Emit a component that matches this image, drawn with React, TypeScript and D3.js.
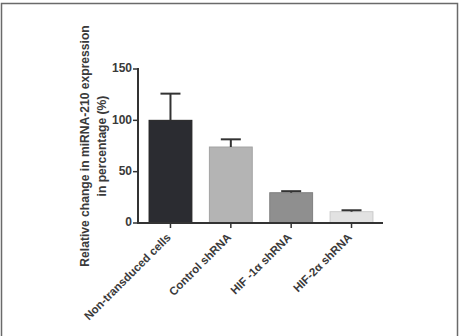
import React from "react";
import * as d3 from "d3";

const categories = ["Non-transduced cells", "Control shRNA", "HIF -1\u03b1 shRNA", "HIF-2\u03b1 shRNA"];
const values = [100, 74, 29.5, 11];
const errors = [26, 7.5, 1.5, 1.4];
const colors = ["#2b2c31", "#b4b4b4", "#8f8f8f", "#e2e2e2"];
const yTicks = [0, 50, 100, 150];

export default function App() {
  const W = 461, H = 336;
  const x0 = 138, x1 = 383;
  const y = d3.scaleLinear().domain([0, 150]).range([223, 69]);
  const x = d3.scaleBand().domain(categories).range([140, 382]).paddingInner(0.29).paddingOuter(0.15);
  const font = "'Liberation Sans', Arial, sans-serif";
  const txt = "#3a3a3a";
  return (
    <svg width={W} height={H} style={{ position: "absolute", left: 0, top: 0, background: "#fff" }}>
      <rect x={1.5} y={3.5} width={456} height={340} fill="#fff" stroke="#6a6a6a" strokeWidth={1.5} />
      {categories.map((c, i) => {
        const bx = x(c)!;
        const bw = x.bandwidth();
        const cx = bx + bw / 2;
        const top = y(values[i] + errors[i]);
        return (
          <g key={c}>
            <rect x={bx} y={y(values[i])} width={bw} height={y(0) - y(values[i])} fill={colors[i]} stroke={i === 0 ? "#222" : d3.color(colors[i])!.darker(0.3).toString()} strokeWidth={1} />
            <line x1={cx} x2={cx} y1={y(values[i])} y2={top} stroke="#333" strokeWidth={2} />
            <line x1={cx - 10} x2={cx + 10} y1={top} y2={top} stroke="#333" strokeWidth={2} />
            <line x1={cx} x2={cx} y1={y(0)} y2={y(0) + 5} stroke="#333" strokeWidth={1.5} />
            <text
              transform={`translate(${cx - 1},${y(0) + 13}) rotate(-45)`}
              textAnchor="end"
              dominantBaseline="middle"
              fontFamily={font}
              fontWeight="bold"
              fontSize={11.5}
              fill={txt}
            >
              {c}
            </text>
          </g>
        );
      })}
      <line x1={x0} x2={x0} y1={y(150) - 1} y2={y(0) + 1} stroke="#333" strokeWidth={2} />
      <line x1={x0 - 1} x2={x1} y1={y(0)} y2={y(0)} stroke="#333" strokeWidth={2} />
      {yTicks.map((t) => (
        <g key={t}>
          <line x1={x0 - 5} x2={x0} y1={y(t)} y2={y(t)} stroke="#333" strokeWidth={1.5} />
          <text x={x0 - 6} y={y(t)} textAnchor="end" dominantBaseline="middle" fontFamily={font} fontWeight="bold" fontSize={12} fill={txt}>
            {t}
          </text>
        </g>
      ))}
      <text transform={`translate(89,146) rotate(-90)`} textAnchor="middle" fontFamily={font} fontWeight="bold" fontSize={12.1} fill={txt}>
        Relative change in miRNA-210 expression
      </text>
      <text transform={`translate(106,146) rotate(-90)`} textAnchor="middle" fontFamily={font} fontWeight="bold" fontSize={12.1} fill={txt}>
        in percentage (%)
      </text>
    </svg>
  );
}
